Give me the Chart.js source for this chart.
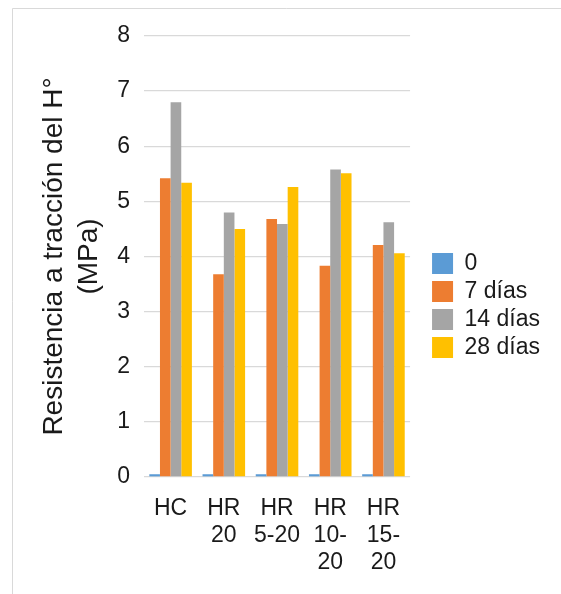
<!DOCTYPE html>
<html>
<head>
<meta charset="utf-8">
<script src="https://cdn.jsdelivr.net/npm/chart.js@4"></script>
<style>
  html, body { margin: 0; padding: 0; background: #fff; }
  #wrap { position: relative; width: 561px; height: 594px; }
</style>
</head>
<body>
<div id="wrap"><canvas id="c" width="561" height="594"></canvas></div>
<script>
// Tensile strength of concrete mixes by curing age
const categories = ['HC', ['HR', '20'], ['HR', '5-20'], ['HR', '10-', '20'], ['HR', '15-', '20']];
const seriesNames = ['0', '7 días', '14 días', '28 días'];
const day0 = [0.05, 0.05, 0.05, 0.05, 0.05];
const day7 = [5.42, 3.68, 4.68, 3.83, 4.21];
const day14 = [6.80, 4.80, 4.59, 5.58, 4.62];
const day28 = [5.34, 4.50, 5.26, 5.51, 4.06];
const yTicks = [0, 1, 2, 3, 4, 5, 6, 7, 8];
const yTitle = ['Resistencia a tracción del H°', '(MPa)'];

const colors = ['#5b9bd5', '#ed7d31', '#a5a5a5', '#ffc000'];
const seriesValues = [day0, day7, day14, day28];
const FONT = 'Liberation Sans, Arial, sans-serif';
const TEXT = '#1a1a1a';
const LEGEND_GAP = 17;     // empty space between the plot and the legend
const LEGEND_LIFT = 19;    // raises the legend's vertical centre

// white page with a thin frame on the top and left edges
const framePlugin = {
  id: 'frame',
  beforeDraw(chart) {
    const ctx = chart.ctx;
    ctx.save();
    ctx.fillStyle = '#fff';
    ctx.fillRect(0, 0, chart.width, chart.height);
    ctx.strokeStyle = '#d9d9d9';
    ctx.lineWidth = 1;
    ctx.beginPath();
    ctx.moveTo(12.5, chart.height);
    ctx.lineTo(12.5, 8.5);
    ctx.lineTo(chart.width, 8.5);
    ctx.stroke();
    ctx.restore();
  }
};

// widen the legend box so the plot stops short of it, then place the items
const legendSpacing = {
  id: 'legendSpacing',
  beforeLayout(chart) {
    const lg = chart.legend;
    if (lg && !lg._spaced) {
      const fit = lg.fit;
      lg.fit = function () {
        fit.call(this);
        this.width += LEGEND_GAP;
      };
      lg._spaced = true;
    }
  },
  afterLayout(chart) {
    const lg = chart.legend;
    if (lg) {
      lg.left += LEGEND_GAP;
      lg.bottom -= LEGEND_LIFT;
    }
  }
};

new Chart(document.getElementById('c'), {
  type: 'bar',
  data: {
    labels: categories,
    datasets: seriesNames.map((name, i) => ({
      label: name,
      data: seriesValues[i],
      backgroundColor: colors[i],
      borderWidth: 0,
      categoryPercentage: 0.8,
      barPercentage: 1.0
    }))
  },
  options: {
    responsive: false,
    animation: false,
    devicePixelRatio: 1,
    layout: { padding: { left: 0, right: 11, top: 36, bottom: 0 } },
    plugins: {
      legend: {
        position: 'right',
        labels: {
          color: TEXT,
          font: { family: FONT, size: 23 },
          boxWidth: 21,
          boxHeight: 21,
          padding: 5
        }
      },
      tooltip: { enabled: false }
    },
    scales: {
      x: {
        grid: { display: false },
        border: { display: false },
        ticks: {
          color: TEXT,
          font: { family: FONT, size: 23, lineHeight: 1.17 },
          padding: 10,
          maxRotation: 0,
          autoSkip: false
        },
        afterFit(s) { s.height = 117; }
      },
      y: {
        min: 0,
        max: 8,
        afterBuildTicks(s) { s.ticks = yTicks.map(v => ({ value: v })); },
        grid: { color: '#d9d9d9', lineWidth: 1.3, drawTicks: false },
        border: { display: false },
        ticks: {
          color: TEXT,
          font: { family: FONT, size: 23 },
          padding: 14
        },
        title: {
          display: true,
          text: yTitle,
          color: TEXT,
          font: { family: FONT, size: 28, lineHeight: 1.25 },
          padding: { top: 37, bottom: 0 }
        },
        afterFit(s) { s.width = 144; }
      }
    }
  },
  plugins: [framePlugin, legendSpacing]
});
</script>
</body>
</html>
